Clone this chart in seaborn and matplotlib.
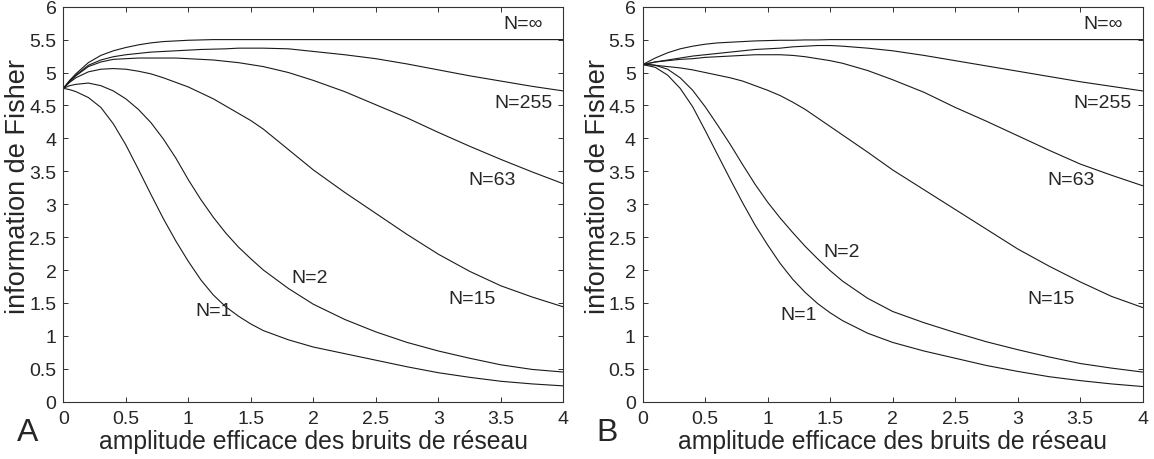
import numpy as np
import pandas as pd
import matplotlib
matplotlib.use('Agg')
import matplotlib.pyplot as plt
import seaborn as sns

sns.set_theme(style='ticks')
plt.rcParams['font.family'] = ['Liberation Sans', 'DejaVu Sans']
plt.rcParams['font.size'] = 14

# abscisse commune (amplitude efficace des bruits)
x_vals = [0, 0.05, 0.1, 0.2, 0.3, 0.4, 0.5, 0.6, 0.7, 0.8, 0.9, 1.0, 1.1, 1.2, 1.3,
          1.4, 1.5, 1.6, 1.8, 2.0, 2.25, 2.5, 2.75, 3.0, 3.25, 3.5, 3.75, 4.0]

# panneau A
A_inf = [4.76, 4.88, 4.98, 5.15, 5.26, 5.33, 5.38, 5.42, 5.45, 5.47, 5.48, 5.49, 5.495, 5.5, 5.5,
         5.5, 5.5, 5.5, 5.5, 5.5, 5.5, 5.5, 5.5, 5.5, 5.5, 5.5, 5.5, 5.5]
A_255 = [4.76, 4.87, 4.96, 5.11, 5.19, 5.24, 5.27, 5.29, 5.31, 5.32, 5.33, 5.34, 5.35, 5.355, 5.36,
         5.37, 5.37, 5.37, 5.36, 5.32, 5.27, 5.21, 5.13, 5.04, 4.95, 4.87, 4.79, 4.72]
A_63 = [4.76, 4.86, 4.95, 5.09, 5.16, 5.2, 5.21, 5.22, 5.22, 5.22, 5.22, 5.21, 5.2, 5.19, 5.17,
        5.15, 5.12, 5.09, 5.0, 4.88, 4.71, 4.51, 4.31, 4.09, 3.88, 3.68, 3.49, 3.31]
A_15 = [4.76, 4.85, 4.92, 5.01, 5.05, 5.06, 5.05, 5.02, 4.98, 4.92, 4.85, 4.78, 4.69, 4.6, 4.49,
        4.38, 4.27, 4.14, 3.83, 3.52, 3.18, 2.86, 2.54, 2.24, 1.98, 1.76, 1.59, 1.44]
A_2 = [4.76, 4.8, 4.82, 4.84, 4.8, 4.72, 4.6, 4.44, 4.24, 3.99, 3.7, 3.37, 3.07, 2.8, 2.56,
       2.35, 2.17, 2.0, 1.72, 1.48, 1.25, 1.06, 0.9, 0.77, 0.66, 0.56, 0.49, 0.45]
A_1 = [4.76, 4.74, 4.71, 4.62, 4.47, 4.22, 3.9, 3.53, 3.15, 2.78, 2.44, 2.13, 1.85, 1.62, 1.44,
       1.3, 1.18, 1.08, 0.94, 0.83, 0.73, 0.63, 0.53, 0.44, 0.37, 0.31, 0.27, 0.24]

# panneau B
B_inf = [5.12, 5.17, 5.22, 5.3, 5.36, 5.4, 5.43, 5.45, 5.46, 5.47, 5.48, 5.485, 5.49, 5.49, 5.495,
         5.495, 5.5, 5.5, 5.5, 5.5, 5.5, 5.5, 5.5, 5.5, 5.5, 5.5, 5.5, 5.5]
B_255 = [5.12, 5.14, 5.16, 5.19, 5.22, 5.25, 5.27, 5.29, 5.31, 5.33, 5.35, 5.36, 5.37, 5.39, 5.4,
         5.41, 5.41, 5.4, 5.37, 5.33, 5.26, 5.18, 5.1, 5.02, 4.94, 4.86, 4.79, 4.72]
B_63 = [5.12, 5.14, 5.16, 5.18, 5.2, 5.21, 5.23, 5.24, 5.25, 5.26, 5.27, 5.27, 5.27, 5.26, 5.24,
        5.21, 5.18, 5.14, 5.03, 4.89, 4.7, 4.47, 4.26, 4.04, 3.82, 3.61, 3.44, 3.28]
B_15 = [5.12, 5.12, 5.11, 5.09, 5.07, 5.04, 5.0, 4.96, 4.92, 4.87, 4.8, 4.73, 4.65, 4.55, 4.44,
        4.31, 4.18, 4.05, 3.79, 3.52, 3.22, 2.92, 2.62, 2.32, 2.06, 1.82, 1.6, 1.43]
B_2 = [5.12, 5.12, 5.11, 5.05, 4.92, 4.73, 4.48, 4.2, 3.91, 3.6, 3.3, 3.03, 2.79, 2.57, 2.36,
       2.17, 1.99, 1.83, 1.57, 1.37, 1.2, 1.05, 0.91, 0.79, 0.68, 0.58, 0.51, 0.45]
B_1 = [5.12, 5.1, 5.08, 4.96, 4.76, 4.48, 4.12, 3.75, 3.38, 3.02, 2.68, 2.38, 2.1, 1.86, 1.66,
       1.49, 1.35, 1.23, 1.04, 0.9, 0.77, 0.66, 0.55, 0.46, 0.38, 0.32, 0.27, 0.23]

curve_names = ['N=∞', 'N=255', 'N=63', 'N=15', 'N=2', 'N=1']

# positions des étiquettes (coordonnées des données)
labels_A = {'N=∞': (3.68, 5.75), 'N=255': (3.68, 4.55), 'N=63': (3.43, 3.37),
            'N=15': (3.27, 1.56), 'N=2': (1.97, 1.89), 'N=1': (1.2, 1.38)}
labels_B = {'N=∞': (3.68, 5.75), 'N=255': (3.68, 4.55), 'N=63': (3.43, 3.37),
            'N=15': (3.27, 1.56), 'N=2': (1.59, 2.28), 'N=1': (1.25, 1.33)}


def build_df(series):
    rows = []
    for name, vals in zip(curve_names, series):
        for xv, yv in zip(x_vals, vals):
            rows.append({'x': xv, 'I': yv, 'N': name})
    return pd.DataFrame(rows)


df_A = build_df([A_inf, A_255, A_63, A_15, A_2, A_1])
df_B = build_df([B_inf, B_255, B_63, B_15, B_2, B_1])


def draw_panel(ax, df, labels, letter, letter_x):
    sns.lineplot(data=df, x='x', y='I', hue='N', palette=['#1a1a1a'] * 6,
                 linewidth=0.8, legend=False, ax=ax, sort=False)
    ax.set_xlim(0, 4)
    ax.set_ylim(0, 6)
    ax.set_xticks(np.arange(0, 4.01, 0.5))
    ax.set_yticks(np.arange(0, 6.01, 0.5))
    ax.set_xticklabels(['0', '0.5', '1', '1.5', '2', '2.5', '3', '3.5', '4'])
    ax.set_yticklabels(['0', '0.5', '1', '1.5', '2', '2.5', '3', '3.5', '4',
                        '4.5', '5', '5.5', '6'])
    ax.tick_params(direction='in', length=3.5, width=0.7, top=True, right=True,
                   labelsize=14, color='#333333')
    ax.tick_params(axis='x', pad=6)
    ax.tick_params(axis='y', pad=5)
    for sp in ax.spines.values():
        sp.set_linewidth(0.8)
        sp.set_color('#333333')
    ax.set_xlabel('amplitude efficace des bruits de réseau', fontsize=17.8)
    ax.set_ylabel('information de Fisher', fontsize=19.5)
    ax.xaxis.set_label_coords(0.5, -0.07)
    ax.yaxis.set_label_coords(-0.064, 0.548)
    for name, (lx, ly) in labels.items():
        ax.text(lx, ly, name, fontsize=14, ha='center', va='center')
    fig.text(letter_x, 0.058, letter, fontsize=23, ha='center', va='center')


fig = plt.figure(figsize=(11.54, 4.6), dpi=100)
ax_A = fig.add_axes([0.0549, 0.1246, 0.4333, 0.8587])
ax_B = fig.add_axes([0.5569, 0.1246, 0.4333, 0.8587])

draw_panel(ax_A, df_A, labels_A, 'A', 0.0238)
draw_panel(ax_B, df_B, labels_B, 'B', 0.526)

fig.savefig('out.png', dpi=100)
